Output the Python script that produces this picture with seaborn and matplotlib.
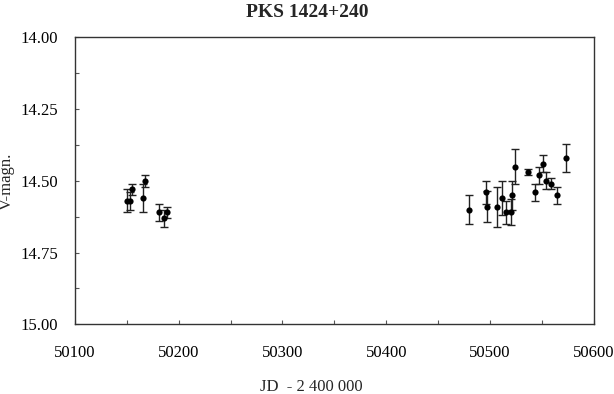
import matplotlib
matplotlib.use("Agg")
import matplotlib.pyplot as plt
import seaborn as sns
import pandas as pd
from matplotlib.ticker import MultipleLocator

# Data
jd = [50150.2, 50152.8, 50155.4, 50165.2, 50167.5, 50181.1, 50186.3, 50188.6,
      50480.1, 50495.9, 50497.1, 50506.9, 50511.8, 50515.5, 50520.4, 50521.6,
      50524.6, 50537.0, 50543.1, 50546.8, 50551.0, 50553.6, 50558.9, 50564.9,
      50572.8]
vmag = [14.57, 14.57, 14.53, 14.56, 14.50, 14.61, 14.63, 14.61,
        14.60, 14.54, 14.59, 14.59, 14.56, 14.61, 14.61, 14.55,
        14.45, 14.47, 14.54, 14.48, 14.44, 14.50, 14.51, 14.55,
        14.42]
verr = [0.04, 0.03, 0.02, 0.05, 0.02, 0.03, 0.03, 0.02,
        0.05, 0.04, 0.055, 0.07, 0.06, 0.04, 0.045, 0.05,
        0.06, 0.01, 0.03, 0.03, 0.03, 0.03, 0.02, 0.03,
        0.05]

title = "PKS 1424+240"
xlabel = "JD  - 2 400 000"
ylabel = "V-magn."
yticks = [14.00, 14.25, 14.50, 14.75, 15.00]
xticks = [50100, 50200, 50300, 50400, 50500, 50600]

df = pd.DataFrame({"jd": jd, "vmag": vmag, "verr": verr})

sns.set_style("white")
plt.rcParams["font.family"] = ["Liberation Serif", "DejaVu Serif"]

fig = plt.figure(figsize=(6.14, 3.94), dpi=100)
ax = fig.add_axes([0.122, 0.177, 0.845, 0.728])

ax.errorbar(df["jd"], df["vmag"], yerr=df["verr"], fmt="none",
            ecolor="#222222", elinewidth=1.0, capsize=2.8, capthick=1.0, zorder=2)
sns.scatterplot(data=df, x="jd", y="vmag", ax=ax, color="black", s=20,
                edgecolor="black", linewidth=0, zorder=3, legend=False)

ax.set_xlim(50100, 50600)
ax.set_ylim(15.00, 14.00)
ax.set_yticks(yticks)
ax.set_yticklabels([f"{v:.2f}" for v in yticks])
ax.yaxis.set_minor_locator(MultipleLocator(0.125))
ax.set_xticks(xticks)
ax.set_xticklabels([str(v) for v in xticks])
ax.xaxis.set_minor_locator(MultipleLocator(50))

ax.tick_params(axis="both", which="both", direction="in", length=3, width=0.8,
               color="#555555", labelsize=12, labelcolor="black",
               top=False, right=False, left=True, bottom=True)
ax.tick_params(axis="x", which="major", pad=15)
ax.tick_params(axis="y", which="major", pad=12)

for sp in ax.spines.values():
    sp.set_color("#333333")
    sp.set_linewidth(1.0)

ax.set_title(title, fontsize=14, fontweight="bold", pad=15, x=0.447)
ax.set_xlabel(xlabel, fontsize=12, labelpad=13)
ax.xaxis.label.set_x(0.455)
ax.set_ylabel(ylabel, fontsize=12, labelpad=4)

fig.savefig("out.png", dpi=100)
